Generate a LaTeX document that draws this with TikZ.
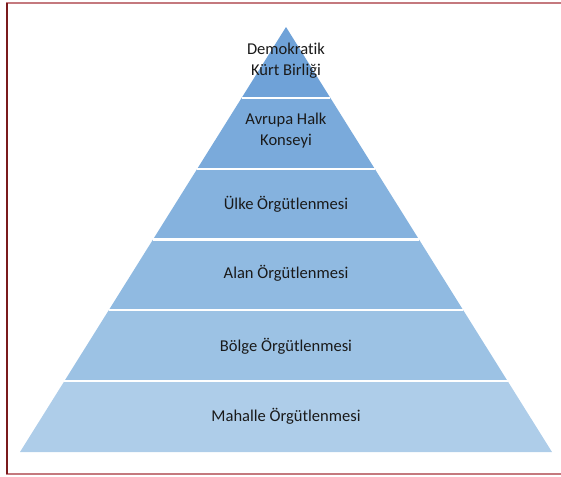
\documentclass[tikz,border=0pt]{standalone}
\usepackage{fontspec}
\setmainfont[Ligatures=NoCommon]{Carlito}
\usetikzlibrary{calc}
\definecolor{frametop}{HTML}{C4797E}
\definecolor{frameleft}{HTML}{7A1A1C}
\definecolor{lay1}{HTML}{6FA2D8}
\definecolor{lay2}{HTML}{7AAADB}
\definecolor{lay3}{HTML}{85B2DE}
\definecolor{lay4}{HTML}{90BAE1}
\definecolor{lay5}{HTML}{9CC2E4}
\definecolor{lay6}{HTML}{AECDE9}
\definecolor{txt}{HTML}{1A1A1A}
\tikzset{
  lbl/.style={align=center, text=txt, font=\fontsize{12.4}{15.8}\selectfont, inner sep=0pt},
  sep/.style={draw=white, line width=1.6pt},
}
\begin{document}
\begin{tikzpicture}[x=0.75pt,y=-0.75pt]
\useasboundingbox (0,0) rectangle (561,476);
% frame
\draw[frametop, line width=1.6pt] (6,3) -- (561,3);
\draw[frametop, line width=1.6pt] (6,474) -- (561,474);
\draw[frameleft, line width=1.6pt] (7,3) -- (7,474);
% pyramid
\coordinate (A) at (286,27);
\coordinate (BL) at (20,452);
\coordinate (BR) at (552,452);
\foreach \i/\c in {0/lay1,1/lay2,2/lay3,3/lay4,4/lay5,5/lay6}{
  \pgfmathsetmacro{\a}{\i/6}
  \pgfmathsetmacro{\b}{(\i+1)/6}
  \fill[\c] ($(A)!\a!(BL)$) -- ($(A)!\b!(BL)$) -- ($(A)!\b!(BR)$) -- ($(A)!\a!(BR)$) -- cycle;
}
\foreach \i in {1,...,5}{
  \pgfmathsetmacro{\a}{\i/6}
  \draw[sep] ($(A)!\a!(BL)$) -- ($(A)!\a!(BR)$);
}
% labels
\node[lbl] (l1) at (286,61) {Demokratik\\Kürt Birliği};
\node[lbl] (l2) at (286,131) {Avrupa Halk\\Konseyi};
\node[lbl] (l3) at (286,204) {Ülke Örgütlenmesi};
\node[lbl] (l4) at (286,273) {Alan Örgütlenmesi};
\node[lbl] (l5) at (286,346) {Bölge Örgütlenmesi};
\node[lbl] (l6) at (286,416) {Mahalle Örgütlenmesi};
\end{tikzpicture}
\end{document}
